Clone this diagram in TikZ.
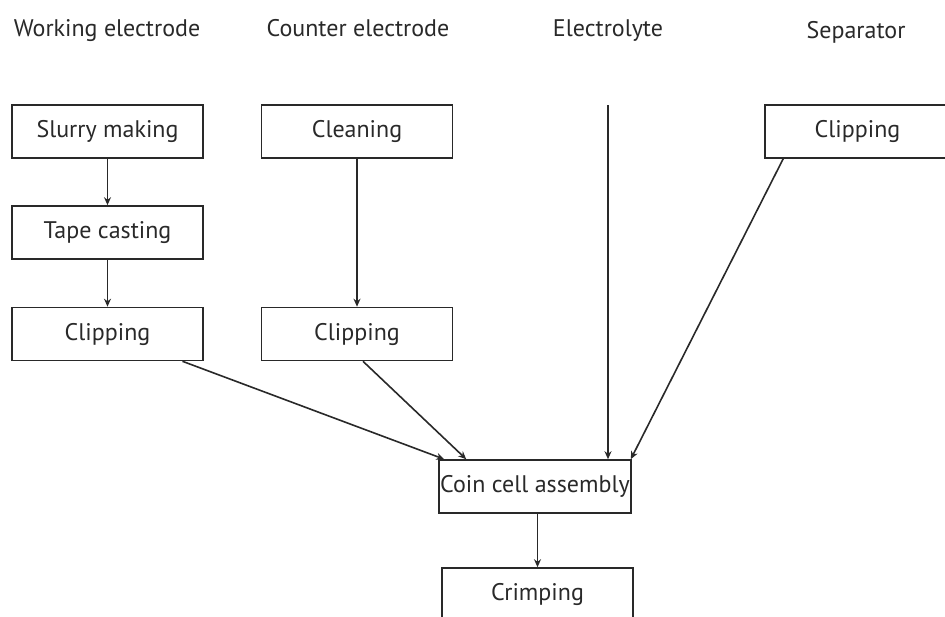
\documentclass[tikz,border=0pt]{standalone}
\usepackage{fontspec}
\setmainfont{PT Sans}
\usetikzlibrary{arrows.meta,positioning}
\definecolor{inkgray}{rgb}{0.16,0.16,0.16}
\tikzset{
  stepbox/.style={draw=inkgray, line width=1.6pt, minimum width=191pt, minimum height=53pt, inner sep=0pt, text=inkgray, font=\fontsize{24}{28}\selectfont},
  heading/.style={anchor=base, text=inkgray, font=\fontsize{24}{28}\selectfont},
  flow/.style={-{Stealth[length=8pt,width=7pt]}, draw=inkgray, line width=1.6pt}
}
\begin{document}
\begin{tikzpicture}[x=1pt,y=-1pt]
      \clip (0,0) rectangle (945,616);
      % column headings
      \node[heading] at (107,36) (we) {Working electrode};
      \node[heading] at (358,36) (ce) {Counter electrode};
      \node[heading] at (608,36) (el) {Electrolyte};
      \node[heading] at (856,38) (sp) {Separator};
      % process steps
      \node[stepbox] at (107.5,131.5) (slurry) {Slurry making};
      \node[stepbox] at (107.5,232.5) (tape) {Tape casting};
      \node[stepbox] at (107.5,334) (clipwe) {Clipping};
      \node[stepbox] at (357,131.5) (clean) {Cleaning};
      \node[stepbox] at (357,334) (clipce) {Clipping};
      \node[stepbox, minimum width=185pt] at (857.5,131.5) (clipsep) {Clipping};
      \node[stepbox, minimum width=192pt] at (535,486.5) (coin) {Coin cell assembly};
      \node[stepbox] at (537.5,594.5) (crimp) {Crimping};
      \coordinate (elyte) at (608,105);
      % arrows
      \draw[flow] (slurry)--(tape);
      \draw[flow] (tape)--(clipwe);
      \draw[flow] (clean)--(clipce);
      \draw[flow] ([xshift=75pt]clipwe.south)--([xshift=6pt]coin.north west);
      \draw[flow] ([xshift=6pt]clipce.south)--([xshift=28pt]coin.north west);
      \draw[flow] (elyte)--(coin.north -| elyte);
      \draw[flow] ([xshift=19pt]clipsep.south west)--([xshift=-1pt]coin.north east);
      \draw[flow] (coin.south -| crimp.north)--(crimp);
\end{tikzpicture}
\end{document}
